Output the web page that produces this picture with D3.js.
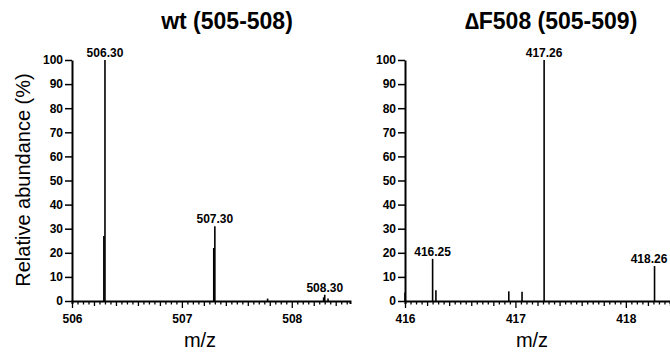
<!DOCTYPE html>
<html>
<head>
<meta charset="utf-8">
<script src="https://cdn.jsdelivr.net/npm/d3@7"></script>
<style>
  body { margin: 0; background: #fff; }
  svg { display: block; font-family: "Liberation Sans", Arial, sans-serif; }
</style>
</head>
<body>
<div id="chart"></div>
<script>
// wt spectrum (left)
const wtMz = [506.29, 506.30, 507.29, 507.30, 507.78, 508.29, 508.30, 508.33];
const wtAbund = [27, 100, 22, 31, 1, 1.5, 2.6, 1];
const wtLabelled = [506.30, 507.30, 508.30];

// deltaF508 spectrum (right)
const dfMz = [416.00, 416.25, 416.28, 416.94, 417.06, 417.26, 418.26];
const dfAbund = [3.5, 17.5, 4.5, 4, 3.8, 100, 14.5];
const dfLabelled = [416.25, 417.26, 418.26];

const yTicks = [0, 10, 20, 30, 40, 50, 60, 70, 80, 90, 100];

const width = 670, height = 352;
const svg = d3.select('#chart').append('svg')
  .attr('width', width).attr('height', height);

const y = d3.scaleLinear().domain([0, 100]).range([301, 60]);

function drawPanel(opts) {
  const x = d3.scaleLinear().domain(opts.domain).range(opts.range);
  const g = svg.append('g');

  // x axis with minor (0.05), medium (0.2) and major (1) ticks
  const lo = opts.domain[0], hi = opts.domain[1];
  const n = Math.floor((hi - lo) / 0.05 + 1e-6);
  const tickVals = d3.range(0, n + 1).map(i => +(lo + i * 0.05).toFixed(2));
  const xAxis = d3.axisBottom(x)
    .tickValues(tickVals)
    .tickSizeOuter(0)
    .tickSize(3)
    .tickPadding(5)
    .tickFormat(d => Math.abs(d - Math.round(d)) < 1e-6 ? d3.format('d')(d) : '');
  const gx = g.append('g')
    .attr('transform', `translate(0,${y(0)})`)
    .call(xAxis);
  gx.selectAll('.tick line')
    .attr('y2', d => {
      const i = Math.round((d - lo) / 0.05);
      if (i % 20 === 0) return 7;
      if (i % 4 === 0) return 5;
      return 3.5;
    })
    .attr('stroke-width', 1.3);
  gx.selectAll('.tick text')
    .attr('dy', '0.71em')
    .attr('y', 13)
    .style('font-size', '12px')
    .style('font-weight', 'bold')
    .attr('fill', '#000');
  gx.select('.domain').attr('stroke-width', 2);

  // y axis
  const yAxis = d3.axisLeft(y).tickValues(yTicks).tickSize(7).tickPadding(2).tickSizeOuter(0);
  const gy = g.append('g')
    .attr('transform', `translate(${opts.range[0]},0)`)
    .call(yAxis);
  gy.selectAll('.tick text')
    .style('font-size', '12px')
    .style('font-weight', 'bold')
    .attr('fill', '#000');
  gy.selectAll('.tick line').attr('stroke-width', 1.5);
  gy.select('.domain').attr('stroke-width', 2);

  // peaks
  g.selectAll('line.peak')
    .data(opts.mz.map((m, i) => ({ mz: m, ab: opts.abund[i] })))
    .join('line')
    .attr('class', 'peak')
    .attr('x1', d => x(d.mz)).attr('x2', d => x(d.mz))
    .attr('y1', y(0)).attr('y2', d => y(d.ab))
    .attr('stroke', '#000')
    .attr('stroke-width', 1.6);

  // peak labels (kept inside the picture at the right edge)
  g.selectAll('text.peak-label')
    .data(opts.labelled.map(m => ({ mz: m, ab: opts.abund[opts.mz.indexOf(m)] })))
    .join('text')
    .attr('class', 'peak-label')
    .attr('x', d => Math.min(x(d.mz), width - 21))
    .attr('y', d => y(d.ab) - 3)
    .attr('text-anchor', 'middle')
    .style('font-size', '12px')
    .style('font-weight', 'bold')
    .text(d => d3.format('.2f')(d.mz));

  // title
  g.append('text')
    .attr('x', opts.titleX).attr('y', 29)
    .attr('text-anchor', 'middle')
    .style('font-size', '23px')
    .style('font-weight', 'bold')
    .text(opts.title);

  // x label
  g.append('text')
    .attr('x', opts.xLabelX).attr('y', 347)
    .attr('text-anchor', 'middle')
    .style('font-size', '20px')
    .text('m/z');
}

drawPanel({
  domain: [506, 508.53], range: [72, 350],
  mz: wtMz, abund: wtAbund, labelled: wtLabelled,
  title: 'wt (505-508)', titleX: 227, xLabelX: 200
});

drawPanel({
  domain: [416, 418.4], range: [405, 670],
  mz: dfMz, abund: dfAbund, labelled: dfLabelled,
  title: '\u2206F508 (505-509)', titleX: 551, xLabelX: 532
});

svg.append('text')
  .attr('transform', 'translate(30,180) rotate(-90)')
  .attr('text-anchor', 'middle')
  .style('font-size', '20px')
  .text('Relative abundance (%)');
</script>
</body>
</html>
